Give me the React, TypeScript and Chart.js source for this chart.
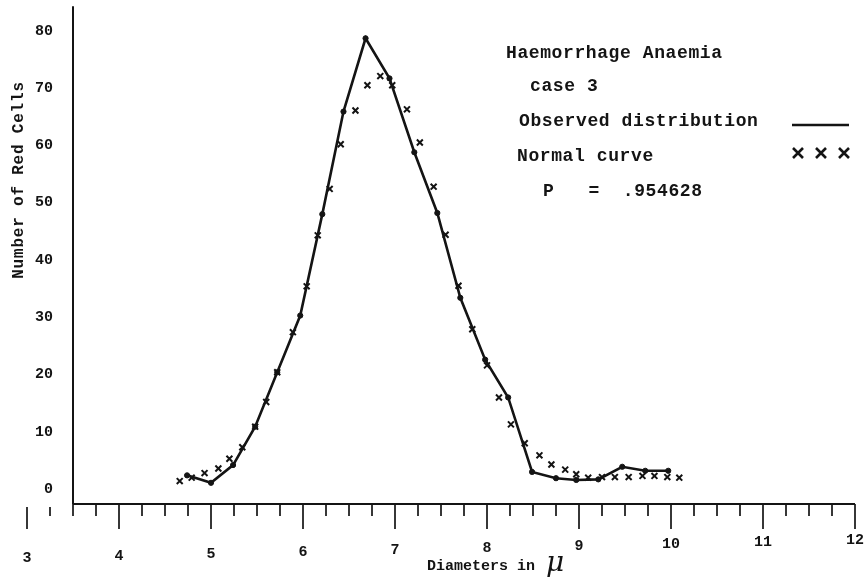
import React, { useEffect, useRef } from "react";
import { Chart, registerables } from "chart.js";

Chart.register(...registerables);

// ---- data ----
const observedX = [4.74, 5.0, 5.24, 5.48, 5.72, 5.97, 6.21, 6.44, 6.68, 6.94, 7.21, 7.46, 7.71, 7.98, 8.23, 8.49, 8.75, 8.97, 9.21, 9.47, 9.72, 9.97];
const observedY = [2.4, 1.1, 4.2, 10.9, 20.4, 30.3, 48.0, 65.9, 78.7, 71.7, 58.8, 48.2, 33.4, 22.6, 16.0, 3.0, 1.9, 1.6, 1.7, 3.9, 3.2, 3.2];

const normalX = [4.66, 4.79, 4.93, 5.08, 5.2, 5.34, 5.48, 5.6, 5.72, 5.89, 6.04, 6.16, 6.29, 6.41, 6.57, 6.7, 6.84, 6.97, 7.13, 7.27, 7.42, 7.55, 7.69, 7.84, 8.0, 8.13, 8.26, 8.41, 8.57, 8.7, 8.85, 8.97, 9.1, 9.25, 9.39, 9.54, 9.69, 9.82, 9.96, 10.09];
const normalY = [1.4, 2.0, 2.8, 3.6, 5.3, 7.3, 10.9, 15.2, 20.4, 27.4, 35.4, 44.3, 52.4, 60.2, 66.1, 70.5, 72.1, 70.5, 66.3, 60.5, 52.8, 44.4, 35.5, 27.9, 21.6, 16.0, 11.3, 8.0, 5.9, 4.3, 3.4, 2.6, 2.0, 2.1, 2.1, 2.1, 2.3, 2.3, 2.1, 2.0];

const xTickValues = [3, 4, 5, 6, 7, 8, 9, 10, 11, 12];
const xTickLabels = ["3", "4", "5", "6", "7", "8", "9", "10", "11", "12"];
const xMinorStep = 0.25;
const yTickValues = [0, 10, 20, 30, 40, 50, 60, 70, 80];
const yTickLabels = ["0", "10", "20", "30", "40", "50", "60", "70", "80"];

const xAxisTitle = "Diameters in";
const xAxisUnit = "\u03BC";
const yAxisTitle = "Number of Red Cells";
const legendTitle = "Haemorrhage Anaemia";
const legendCase = "case 3";
const legendObserved = "Observed distribution";
const legendNormal = "Normal curve";
const legendP = "P   =  .954628";

const X_MIN = 3;
const X_MAX = 12;
const X_AXIS_START = 3.5;
const Y_MIN = -2.6;
const Y_MAX = 84.3;

const INK = "#141414";
const MONO = '"Liberation Mono", "DejaVu Sans Mono", monospace';

function drawCross(ctx: CanvasRenderingContext2D, cx: number, cy: number, r: number) {
  ctx.beginPath();
  ctx.moveTo(cx - r, cy - r);
  ctx.lineTo(cx + r, cy + r);
  ctx.moveTo(cx + r, cy - r);
  ctx.lineTo(cx - r, cy + r);
  ctx.stroke();
}

const paperPlugin = {
  id: "paperAxes",
  beforeDatasetsDraw(chart: any) {
    const { ctx } = chart;
    const x = chart.scales.x;
    const y = chart.scales.y;
    const x0 = x.getPixelForValue(X_AXIS_START);
    const xEnd = x.getPixelForValue(X_MAX);
    const yb = y.getPixelForValue(Y_MIN);
    const yt = y.getPixelForValue(Y_MAX);
    ctx.save();
    ctx.strokeStyle = INK;
    ctx.lineCap = "butt";
    // axes
    ctx.lineWidth = 2;
    ctx.beginPath();
    ctx.moveTo(x0, yt);
    ctx.lineTo(x0, yb);
    ctx.stroke();
    ctx.beginPath();
    ctx.moveTo(x0, yb);
    ctx.lineTo(xEnd, yb);
    ctx.stroke();
    // x ticks
    ctx.lineWidth = 1.7;
    const n = Math.round((X_MAX - X_MIN) / xMinorStep);
    for (let i = 0; i <= n; i++) {
      const v = X_MIN + i * xMinorStep;
      const px = x.getPixelForValue(v);
      const major = Math.abs(v - Math.round(v)) < 1e-6;
      ctx.beginPath();
      ctx.moveTo(px, yb + (v < X_AXIS_START ? 3 : 0));
      ctx.lineTo(px, yb + (major ? 25 : 12));
      ctx.stroke();
    }
    // x tick labels
    ctx.fillStyle = INK;
    ctx.font = `bold 15px ${MONO}`;
    ctx.textAlign = "center";
    ctx.textBaseline = "middle";
    xTickValues.forEach((v, i) => {
      const px = x.getPixelForValue(v);
      ctx.fillText(xTickLabels[i], px, yb + 54 - (v - X_MIN) * 2);
    });
    // y tick labels
    ctx.textAlign = "right";
    yTickValues.forEach((v, i) => {
      ctx.fillText(yTickLabels[i], x0 - 20, y.getPixelForValue(v));
    });
    // axis titles
    ctx.textAlign = "left";
    ctx.textBaseline = "alphabetic";
    ctx.font = `bold 15px ${MONO}`;
    (ctx as any).letterSpacing = "0px";
    ctx.fillText(xAxisTitle, 427, 570);
    ctx.font = `italic 28px "DejaVu Serif", serif`;
    ctx.fillText(xAxisUnit, 546, 571);

    ctx.save();
    ctx.translate(19, 180);
    ctx.rotate(-Math.PI / 2);
    ctx.textAlign = "center";
    ctx.textBaseline = "middle";
    ctx.font = `bold 16px ${MONO}`;
    (ctx as any).letterSpacing = "0.8px";
    ctx.fillText(yAxisTitle, 0, 0);
    ctx.restore();

    // legend block
    ctx.font = `bold 18px ${MONO}`;
    (ctx as any).letterSpacing = "0.6px";
    ctx.textAlign = "left";
    ctx.textBaseline = "alphabetic";
    ctx.fillText(legendTitle, 506, 58);
    ctx.fillText(legendCase, 530, 91);
    ctx.fillText(legendObserved, 519, 126);
    ctx.fillText(legendNormal, 517, 161);
    ctx.fillText(legendP, 543, 196);
    (ctx as any).letterSpacing = "0px";

    ctx.lineWidth = 2.6;
    ctx.beginPath();
    ctx.moveTo(792, 125);
    ctx.lineTo(849, 125);
    ctx.stroke();
    ctx.lineWidth = 2.6;
    drawCross(ctx, 798, 153, 5);
    drawCross(ctx, 821, 153, 5);
    drawCross(ctx, 844, 153, 5);
    ctx.restore();
  },
};

export default function App() {
  const canvasRef = useRef<HTMLCanvasElement | null>(null);

  useEffect(() => {
    const canvas = canvasRef.current;
    if (!canvas) return;
    const observed = observedX.map((v, i) => ({ x: v, y: observedY[i] }));
    const normal = normalX.map((v, i) => ({ x: v, y: normalY[i] }));
    const chart = new Chart(canvas, {
      type: "line",
      data: {
        datasets: [
          {
            label: "Observed distribution",
            data: observed,
            borderColor: INK,
            backgroundColor: INK,
            borderWidth: 2.6,
            tension: 0,
            pointRadius: 2.6,
            pointBorderWidth: 1,
            pointBackgroundColor: INK,
            pointBorderColor: INK,
            fill: false,
          },
          {
            label: "Normal curve",
            data: normal,
            showLine: false,
            pointStyle: "crossRot",
            pointRadius: 4.2,
            pointBorderWidth: 2,
            pointBorderColor: INK,
            borderColor: INK,
            backgroundColor: INK,
          },
        ],
      },
      options: {
        responsive: false,
        animation: false,
        devicePixelRatio: 1,
        layout: { padding: { left: 27, right: 11, top: 5, bottom: 77 } },
        plugins: {
          legend: { display: false },
          title: { display: false },
          tooltip: { enabled: false },
        },
        scales: {
          x: { type: "linear", min: X_MIN, max: X_MAX, display: false },
          y: { type: "linear", min: Y_MIN, max: Y_MAX, display: false },
        },
      },
      plugins: [paperPlugin],
    } as any);
    return () => chart.destroy();
  }, []);

  return (
    <div style={{ position: "absolute", left: 0, top: 0, width: 866, height: 581, background: "#fff" }}>
      <canvas ref={canvasRef} width={866} height={581} style={{ display: "block", width: 866, height: 581 }} />
    </div>
  );
}
